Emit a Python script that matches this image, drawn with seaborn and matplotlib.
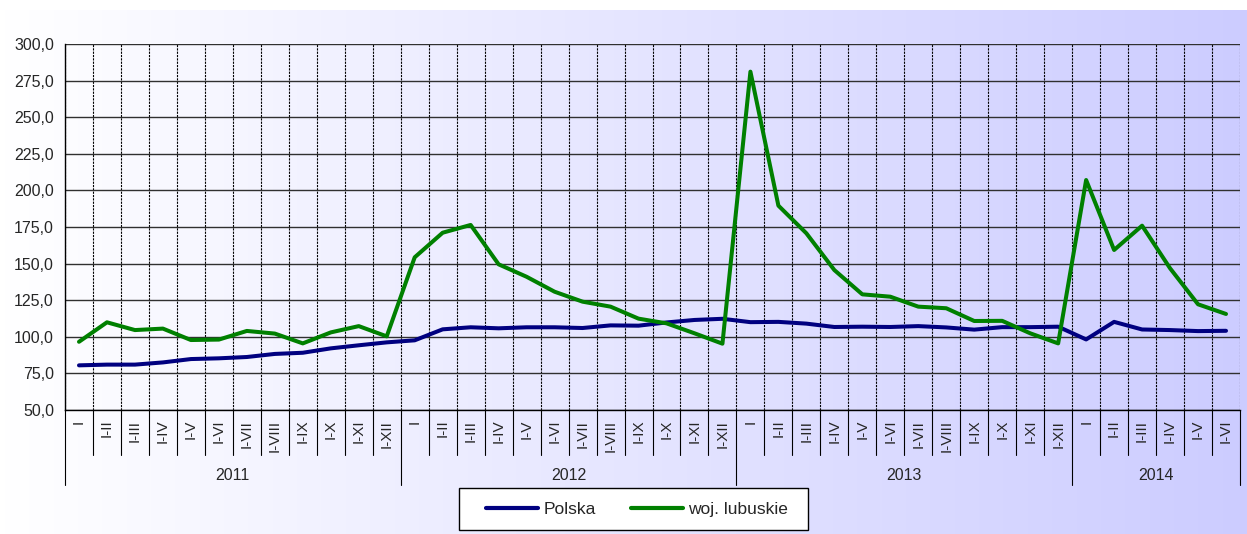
import numpy as np
import pandas as pd
import matplotlib
matplotlib.use("Agg")
import matplotlib.pyplot as plt
import matplotlib.transforms as mtransforms
from matplotlib.colors import LinearSegmentedColormap
from matplotlib.patches import Rectangle
import seaborn as sns

# data
years = ["2011", "2012", "2013", "2014"]
months_per_year = [12, 12, 12, 6]
period_labels = ["I", "I-II", "I-III", "I-IV", "I-V", "I-VI",
                 "I-VII", "I-VIII", "I-IX", "I-X", "I-XI", "I-XII"]

polska = [80.5, 81.0, 81.0, 82.5, 84.8, 85.3, 86.2, 88.3, 89.1, 92.1, 94.2, 96.2,
          97.6, 105.1, 106.5, 105.8, 106.5, 106.5, 106.0, 107.8, 107.6, 109.8, 111.5, 112.3,
          110.0, 110.2, 109.0, 106.7, 106.9, 106.7, 107.3, 106.4, 104.9, 106.6, 106.6, 106.9,
          98.2, 110.2, 105.0, 104.6, 103.9, 104.1]
lubuskie = [96.6, 109.9, 104.6, 105.6, 97.8, 98.1, 104.0, 102.2, 95.5, 103.0, 107.3, 100.3,
            154.3, 171.1, 176.4, 149.5, 141.0, 130.8, 124.0, 120.6, 112.4, 109.2, 102.4, 95.3,
            281.1, 189.6, 170.7, 145.6, 129.0, 127.4, 120.6, 119.5, 110.8, 110.9, 102.4, 95.5,
            207.1, 159.3, 175.9, 146.8, 122.2, 115.6]

x_labels = [p for n in months_per_year for p in period_labels[:n]]
n = len(x_labels)

df = pd.DataFrame({
    "x": list(range(n)) * 2,
    "wartosc": polska + lubuskie,
    "seria": ["Polska"] * n + ["woj. lubuskie"] * n,
})

sns.set_style("white")
plt.rcParams["font.family"] = ["Liberation Sans", "DejaVu Sans"]

W, H = 1247, 534
fig = plt.figure(figsize=(W / 100, H / 100), dpi=100)

# gradient background (white -> light lavender)
bg = fig.add_axes([0, 0, 1, 1 - 10 / H], zorder=-10)
cmap = LinearSegmentedColormap.from_list("bg", ["#ffffff", "#ccccff"])
bg.imshow(np.linspace(0, 1, 256).reshape(1, -1), cmap=cmap, aspect="auto",
          extent=[0, 1, 0, 1])
bg.set_axis_off()

ax = fig.add_axes([65 / W, 1 - 410 / H, 1175 / W, 366 / H])
ax.set_facecolor("none")

sns.lineplot(data=df, x="x", y="wartosc", hue="seria",
             palette={"Polska": "#000080", "woj. lubuskie": "#008000"},
             linewidth=2.9, ax=ax, legend=False)

ax.set_xlim(-0.5, n - 0.5)
ax.set_ylim(50, 300)
yt = np.arange(50, 301, 25)
ax.set_yticks(yt)
ax.set_yticklabels([f"{v:.1f}".replace(".", ",") for v in yt], fontsize=11.5)
ax.tick_params(axis="y", direction="out", length=5, width=1, color="black", pad=3)

ax.set_xticks(range(n))
ax.set_xticklabels(x_labels, rotation=90, fontsize=11, va="top", ha="center")
ax.tick_params(axis="x", length=0, pad=7)
ax.set_xlabel("")
ax.set_ylabel("")

# grid
ax.set_xticks(np.arange(-0.5, n, 1), minor=True)
ax.grid(True, axis="y", which="major", color="#303030", linewidth=1.0, linestyle="-")
ax.grid(True, axis="x", which="minor", color="black", linewidth=0.8, linestyle=(0, (2, 1)))
ax.grid(False, axis="x", which="major")
ax.tick_params(axis="x", which="minor", length=0)

for s in ["top", "right"]:
    ax.spines[s].set_visible(False)
ax.spines["left"].set_color("black")
ax.spines["bottom"].set_color("black")
ax.spines["left"].set_linewidth(1)
ax.spines["bottom"].set_linewidth(1)

# category separators and year groups below the axis
trans = mtransforms.blended_transform_factory(ax.transData, ax.transAxes)
bounds = np.cumsum([0] + months_per_year) - 0.5
for b in np.arange(-0.5, n, 1):
    bottom = -0.205 if np.any(np.isclose(bounds, b)) else -0.123
    ax.plot([b, b], [0, bottom], color="black", linewidth=0.8,
            transform=trans, clip_on=False)
for i, yr in enumerate(years):
    ax.text((bounds[i] + bounds[i + 1]) / 2, -0.178, yr, transform=trans,
            ha="center", va="center", fontsize=11.5)

# legend box
fig.patches.append(Rectangle((459 / W, 1 - 530 / H), 349 / W, 42 / H,
                             transform=fig.transFigure, facecolor="white",
                             edgecolor="black", linewidth=1, zorder=1))
handles = [plt.Line2D([], [], color="#000080", linewidth=3),
           plt.Line2D([], [], color="#008000", linewidth=3)]
leg = fig.legend(handles, ["Polska", "woj. lubuskie"], loc="center",
                 bbox_to_anchor=(637 / W, 1 - 509 / H), ncol=2,
                 frameon=False, fontsize=12.5,
                 handlelength=3.0, handletextpad=0.3, columnspacing=2.0)
leg.set_zorder(2)

fig.savefig("out.png", dpi=100)
